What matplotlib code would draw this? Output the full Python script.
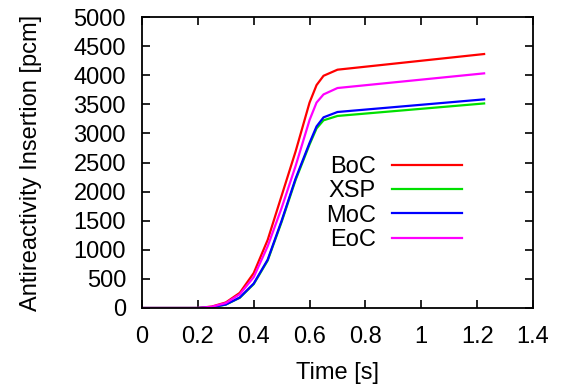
import matplotlib.pyplot as plt

plt.rcParams['font.family'] = ['Liberation Sans', 'DejaVu Sans']

time = [0.0, 0.05, 0.1, 0.15, 0.2, 0.25, 0.3, 0.35, 0.4, 0.45, 0.5, 0.55, 0.6, 0.625, 0.65, 0.7, 1.225]
boc = [0, 0, 0, 0, 0, 25, 95, 260, 600, 1170, 1930, 2690, 3530, 3830, 3990, 4095, 4364]
xsp = [0, 0, 0, 0, 0, 14, 58, 175, 410, 815, 1480, 2200, 2810, 3085, 3225, 3300, 3515]
moc = [0, 0, 0, 0, 0, 15, 60, 180, 420, 830, 1500, 2224, 2837, 3120, 3276, 3368, 3585]
eoc = [0, 0, 0, 0, 0, 22, 85, 235, 530, 1060, 1720, 2440, 3230, 3530, 3670, 3780, 4032]

fig = plt.figure(figsize=(5.63, 3.85), dpi=100)
ax = fig.add_axes([0.2522, 0.2, 0.6945, 0.7558])

ax.plot(time, boc, color='#ff0000', lw=1.6, label='BoC')
ax.plot(time, xsp, color='#00e000', lw=1.6, label='XSP')
ax.plot(time, moc, color='#0000ff', lw=1.6, label='MoC')
ax.plot(time, eoc, color='#ff00ff', lw=1.6, label='EoC')

ax.set_xlim(0, 1.4)
ax.set_ylim(0, 5000)
ax.set_xticks([0, 0.2, 0.4, 0.6, 0.8, 1, 1.2, 1.4])
ax.set_xticklabels(['0', '0.2', '0.4', '0.6', '0.8', '1', '1.2', '1.4'])
ax.set_yticks(range(0, 5001, 500))
ax.tick_params(direction='in', length=6, width=1.2, top=True, right=True,
               labelsize=17)
ax.tick_params(axis='x', pad=13)
ax.tick_params(axis='y', pad=11.5)
for s in ax.spines.values():
    s.set_linewidth(1.3)

ax.set_xlabel('Time [s]', fontsize=17, labelpad=10)
ax.set_ylabel('Antireactivity Insertion [pcm]', fontsize=17, labelpad=23)

ax.legend(loc='upper right', bbox_to_anchor=(0.818, 0.523), frameon=False,
          markerfirst=False, fontsize=17, handlelength=2.97, labelspacing=0.1,
          handletextpad=0.68, borderaxespad=0, borderpad=0)

plt.savefig('out.png', dpi=100)
